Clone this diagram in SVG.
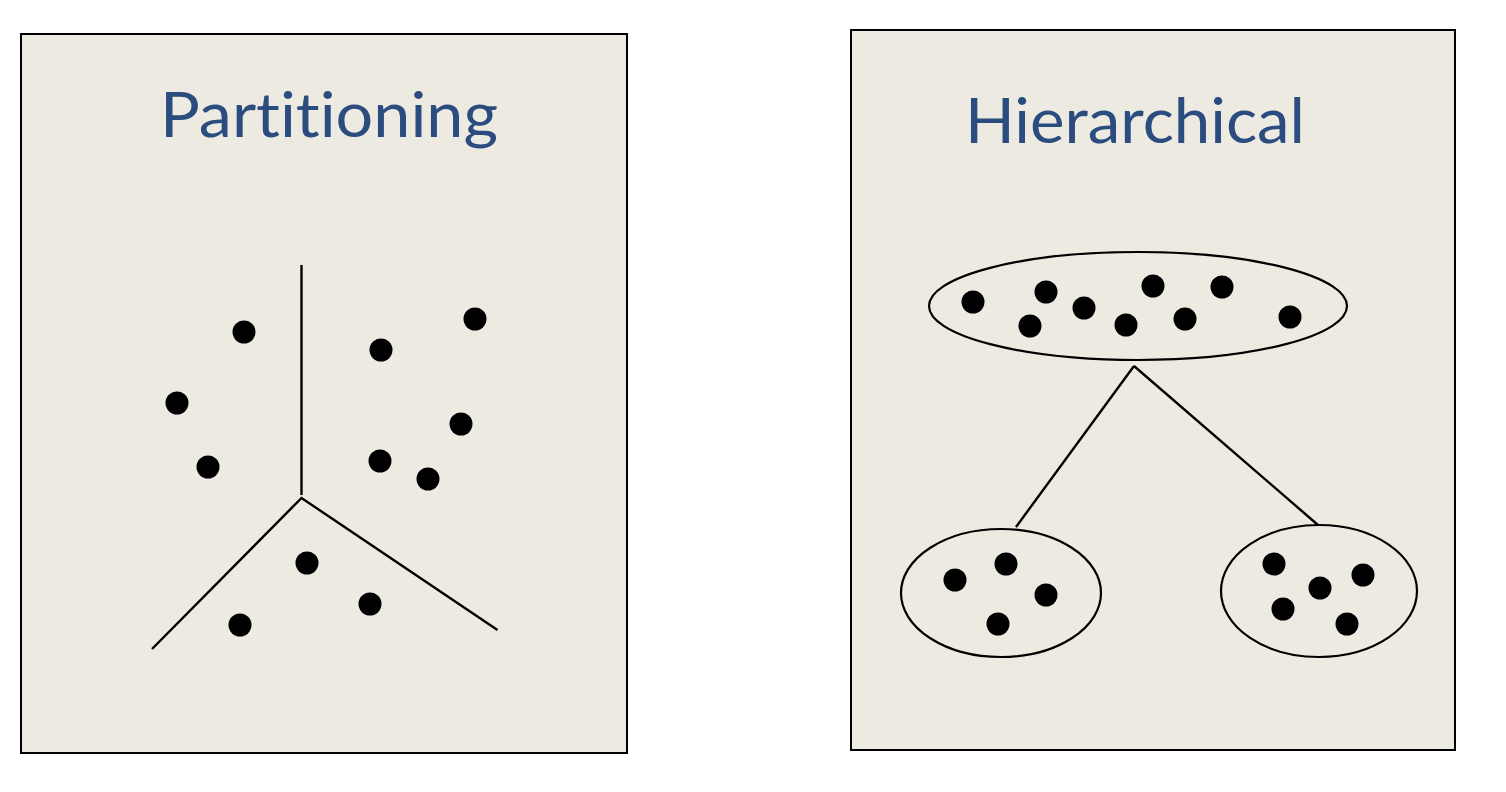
<svg xmlns="http://www.w3.org/2000/svg" width="1506" height="792" viewBox="0 0 1506 792">
<style>
.panel{fill:#EDEAE2;stroke:#000;stroke-width:2}
.title{font-family:Lato,"Open Sans","Liberation Sans",sans-serif;font-size:62px;fill:#2B4C7E;font-variant-ligatures:none;font-feature-settings:"liga" 0}
.ln{stroke:#000;stroke-width:2.4;fill:none}
.el{stroke:#000;stroke-width:2.2;fill:none}
.dot{fill:#000}
</style>
<rect width="1506" height="792" fill="#fff"/>
<g id="partitioning">
<rect class="panel" x="21" y="34" width="606" height="719"/>
<text class="title" x="160" y="137" textLength="338" lengthAdjust="spacingAndGlyphs">Partitioning</text>
<g id="partition-lines">
<line class="ln" x1="301.5" y1="265" x2="301.5" y2="495"/>
<polyline class="ln" points="152,649 301.5,498 497.5,630"/>
</g>
<g id="partition-dots">
<circle class="dot" cx="244" cy="332" r="11.5"/>
<circle class="dot" cx="177" cy="403" r="11.5"/>
<circle class="dot" cx="208" cy="467" r="11.5"/>
<circle class="dot" cx="381" cy="350" r="11.5"/>
<circle class="dot" cx="475" cy="319" r="11.5"/>
<circle class="dot" cx="461" cy="424" r="11.5"/>
<circle class="dot" cx="380" cy="461" r="11.5"/>
<circle class="dot" cx="428" cy="479" r="11.5"/>
<circle class="dot" cx="307" cy="563" r="11.5"/>
<circle class="dot" cx="370" cy="604" r="11.5"/>
<circle class="dot" cx="240" cy="625" r="11.5"/>
</g>
</g>
<g id="hierarchical">
<rect class="panel" x="851" y="30" width="604" height="720"/>
<text class="title" x="965" y="143" textLength="340" lengthAdjust="spacingAndGlyphs">Hierarchical</text>
</g>
<g id="connectors">
<line class="ln" x1="1134" y1="366" x2="1016" y2="527"/>
<line class="ln" x1="1134" y1="366" x2="1318" y2="525"/>
</g>
<g id="cluster-top">
<ellipse class="el" cx="1138" cy="306" rx="209" ry="54"/>
<circle class="dot" cx="973" cy="302" r="11.5"/>
<circle class="dot" cx="1046" cy="292" r="11.5"/>
<circle class="dot" cx="1030" cy="326" r="11.5"/>
<circle class="dot" cx="1084" cy="308" r="11.5"/>
<circle class="dot" cx="1153" cy="286" r="11.5"/>
<circle class="dot" cx="1126" cy="325" r="11.5"/>
<circle class="dot" cx="1222" cy="287" r="11.5"/>
<circle class="dot" cx="1185" cy="319" r="11.5"/>
<circle class="dot" cx="1290" cy="317" r="11.5"/>
</g>
<g id="cluster-left">
<ellipse class="el" cx="1001" cy="593" rx="100" ry="64"/>
<circle class="dot" cx="955" cy="580" r="11.5"/>
<circle class="dot" cx="1006" cy="564" r="11.5"/>
<circle class="dot" cx="1046" cy="595" r="11.5"/>
<circle class="dot" cx="998" cy="624" r="11.5"/>
</g>
<g id="cluster-right">
<ellipse class="el" cx="1319" cy="591" rx="98" ry="66"/>
<circle class="dot" cx="1274" cy="564" r="11.5"/>
<circle class="dot" cx="1320" cy="588" r="11.5"/>
<circle class="dot" cx="1363" cy="575" r="11.5"/>
<circle class="dot" cx="1283" cy="609" r="11.5"/>
<circle class="dot" cx="1347" cy="624" r="11.5"/>
</g>
</svg>
